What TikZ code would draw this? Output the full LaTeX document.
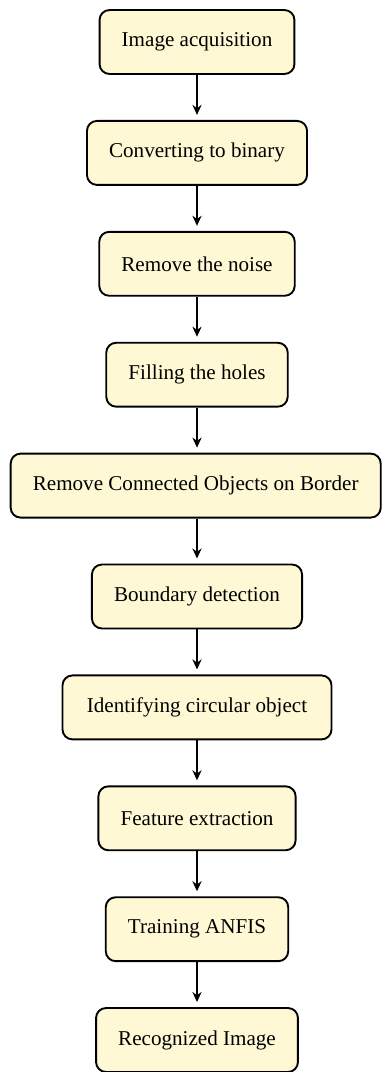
\documentclass[tikz,border=0pt]{standalone}
\usepackage{fontspec}
\setmainfont{Liberation Serif}
\usetikzlibrary{arrows.meta}
\definecolor{boxfill}{HTML}{FFF8D4}
\begin{document}
\begin{tikzpicture}[x=0.474pt,y=-0.474pt,
  stepbox/.style={draw=black, line width=0.9pt, fill=boxfill, rounded corners=4.7pt,
    minimum height=30.3pt, inner xsep=10.5pt, font=\fontsize{10}{12}\selectfont},
  flow/.style={line width=0.6pt, -{Stealth[length=4.8pt,width=4.4pt,inset=1.6pt]}, shorten >=2.4pt}]
\useasboundingbox (0,0) rectangle (382,1072);
\node[stepbox] (n1) at (197,42) {Image acquisition};
\node[stepbox] (n2) at (197,152.9) {Converting to binary};
\node[stepbox] (n3) at (197,263.8) {Remove the noise};
\node[stepbox] (n4) at (197,374.7) {Filling the holes};
\node[stepbox] (n5) at (195.7,485.6) {Remove Connected Objects on Border};
\node[stepbox] (n6) at (197,596.5) {Boundary detection};
\node[stepbox, minimum width=127.5pt] (n7) at (197,707.4) {Identifying circular object};
\node[stepbox] (n8) at (197,818.3) {Feature extraction};
\node[stepbox] (n9) at (197,929.2) {Training ANFIS};
\node[stepbox] (n10) at (197,1040) {Recognized Image};
\foreach \a/\b in {n1/n2,n2/n3,n3/n4,n6/n7,n7/n8,n8/n9,n9/n10}
  \draw[flow] (\a.south) -- (\a.south |- \b.north);
\draw[flow] (n4.south) -- (n4.south |- n5.north);
\draw[flow] (n6.north |- n5.south) -- (n6.north);
\end{tikzpicture}
\end{document}
